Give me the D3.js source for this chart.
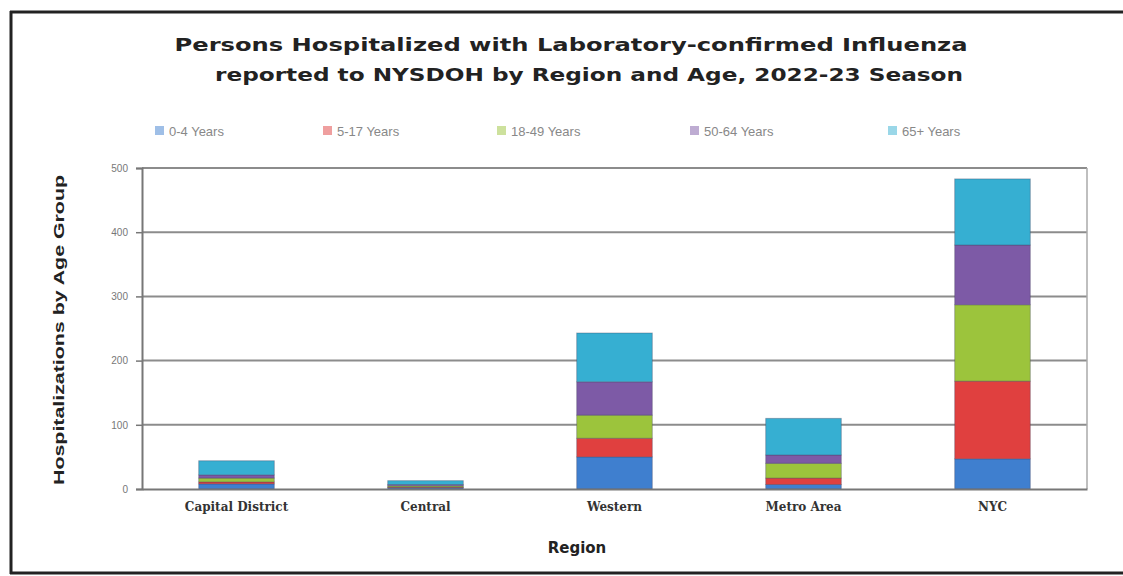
<!DOCTYPE html>
<html><head><meta charset="utf-8">
<script src="https://cdn.jsdelivr.net/npm/d3@7"></script>
<style>body{margin:0;background:#fff}svg{display:block}</style>
</head><body><svg id="c" width="1123" height="576"></svg>
<script>
const regions = ["Capital District","Central","Western","Metro Area","NYC"];
const ageGroups = ["0-4 Years","5-17 Years","18-49 Years","50-64 Years","65+ Years"];
const age0_4   = [8, 2, 50, 7, 47];
const age5_17  = [3, 1, 29, 10, 121];
const age18_49 = [6, 2, 36, 23, 119];
const age50_64 = [5, 2, 52, 13, 93];
const age65p   = [22, 6, 76, 57, 103];
const yTicks = [0,100,200,300,400,500];
const colors = ["#3f7fcf","#e0403f","#9cc43c","#7d5aa6","#36afd2"];

const series = [age0_4, age5_17, age18_49, age50_64, age65p];
const rows = regions.map((r,i)=>{const o={region:r}; ageGroups.forEach((g,j)=>o[g]=series[j][i]); return o;});
const stack = d3.stack().keys(ageGroups)(rows);

const svg = d3.select("#c");
const pL=142, pR=1087, pT=168, pB=489;
const x = d3.scaleBand().domain(regions).range([pL,pR]).paddingInner(0.6).paddingOuter(0.3);
const y = d3.scaleLinear().domain([0,500]).range([pB,pT]);

// outer frame
svg.append("line").attr("x1",10).attr("x2",1123).attr("y1",12).attr("y2",12).attr("stroke","#222").attr("stroke-width",3);
svg.append("line").attr("x1",11).attr("x2",11).attr("y1",11).attr("y2",574).attr("stroke","#222").attr("stroke-width",3);
svg.append("line").attr("x1",10).attr("x2",1123).attr("y1",573).attr("y2",573).attr("stroke","#222").attr("stroke-width",3);

// title
const title = svg.append("text").attr("text-anchor","middle").attr("font-family","DejaVu Sans, sans-serif").attr("font-weight","bold").attr("font-size",18).attr("fill","#222");
title.append("tspan").attr("x",571).attr("y",51).attr("textLength",793).attr("lengthAdjust","spacingAndGlyphs").text("Persons Hospitalized with Laboratory-confirmed  Influenza");
title.append("tspan").attr("x",589).attr("y",81).attr("textLength",748).attr("lengthAdjust","spacingAndGlyphs").text("reported to NYSDOH by Region and Age, 2022-23 Season");

// gridlines
svg.append("g").selectAll("line").data(yTicks.slice(1)).join("line")
  .attr("x1",pL).attr("x2",pR).attr("y1",d=>y(d)).attr("y2",d=>y(d))
  .attr("stroke","#8c8c8c").attr("stroke-width",2);
// plot right border
svg.append("line").attr("x1",pR).attr("x2",pR).attr("y1",pT).attr("y2",pB).attr("stroke","#aaa").attr("stroke-width",1.5);

// y axis
const ya = svg.append("g").attr("transform",`translate(${pL},0)`).call(d3.axisLeft(y).tickValues(yTicks).tickSize(6).tickFormat(d3.format("d")));
ya.select(".domain").attr("stroke","#777").attr("stroke-width",2);
ya.selectAll(".tick line").attr("stroke","#777").attr("stroke-width",1.5);
ya.selectAll("text").attr("font-family","Liberation Sans, sans-serif").attr("font-size",10).attr("fill","#777").attr("x",-14);

// bars
svg.append("g").selectAll("g").data(stack).join("g").attr("fill",(d,i)=>colors[i])
  .selectAll("rect").data(d=>d).join("rect")
  .attr("x",d=>x(d.data.region)).attr("width",x.bandwidth())
  .attr("y",d=>y(d[1])).attr("height",d=>Math.max(0,y(d[0])-y(d[1])))
  .attr("stroke","rgba(60,60,90,0.35)").attr("stroke-width",1);

// x axis
const xa = svg.append("g").attr("transform",`translate(0,${pB})`).call(d3.axisBottom(x).tickSize(0));
xa.select(".domain").attr("stroke","#777").attr("stroke-width",2);
xa.selectAll("text").attr("font-family","DejaVu Serif, serif").attr("font-weight","bold").attr("font-size",12).attr("fill","#333").attr("dy","1.6em");

// axis titles
svg.append("text").attr("x",577).attr("y",553).attr("text-anchor","middle").attr("font-family","DejaVu Sans, sans-serif").attr("font-weight","bold").attr("font-size",15).attr("fill","#222").text("Region");
svg.append("text").attr("transform","translate(64,330) rotate(-90)").attr("text-anchor","middle")
  .attr("font-family","Liberation Sans, sans-serif").attr("font-weight","bold").attr("font-size",15).attr("fill","#222")
  .attr("textLength",310).attr("lengthAdjust","spacingAndGlyphs").text("Hospitalizations by Age Group");

// legend
const legX = [155,323,497,690,888];
const lg = svg.append("g").selectAll("g").data(ageGroups).join("g").attr("transform",(d,i)=>`translate(${legX[i]},131)`);
lg.append("rect").attr("x",0).attr("y",-5).attr("width",9).attr("height",9).attr("fill",(d,i)=>colors[i]).attr("opacity",0.5);
lg.append("text").attr("x",14).attr("y",5).attr("font-family","Liberation Sans, sans-serif").attr("font-size",13).attr("fill","#888").text(d=>d);
</script></body></html>
